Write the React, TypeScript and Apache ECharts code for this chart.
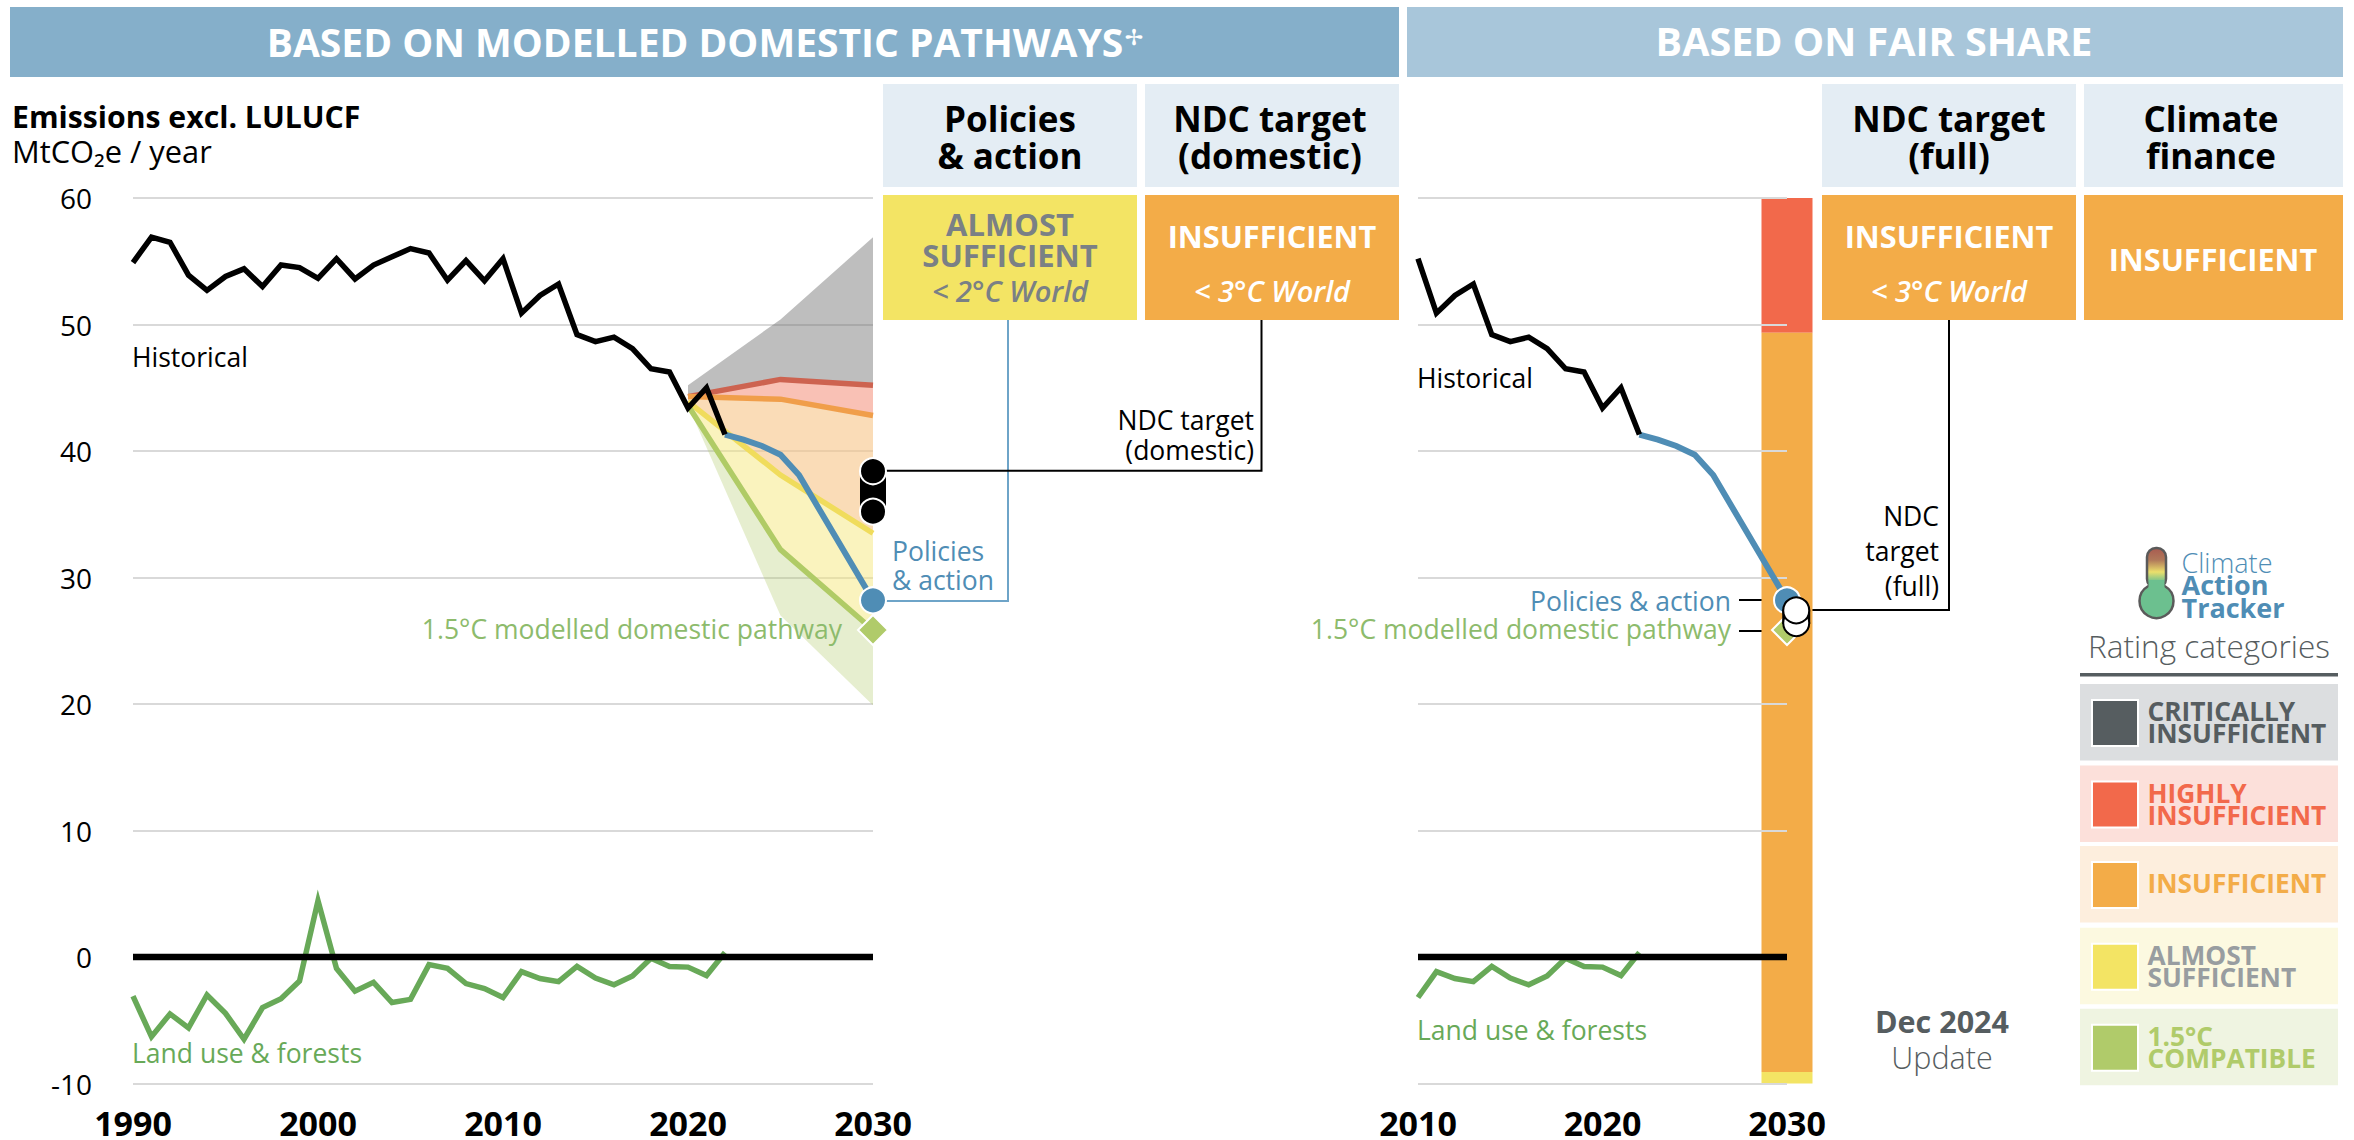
import React, { useEffect, useRef } from "react";
import * as echarts from "echarts";

const FONT = '"Open Sans","Noto Sans","DejaVu Sans",sans-serif';

const histYears = [1990,1991,1992,1993,1994,1995,1996,1997,1998,1999,2000,2001,2002,2003,2004,2005,2006,2007,2008,2009,2010,2011,2012,2013,2014,2015,2016,2017,2018,2019,2020,2021,2022];
const histValues = [54.9,56.9,56.5,53.9,52.7,53.8,54.4,53.0,54.7,54.5,53.65,55.2,53.6,54.7,55.35,56.0,55.65,53.5,55.05,53.45,55.2,50.9,52.3,53.2,49.2,48.65,49.0,48.1,46.5,46.25,43.4,45.0,41.3];
const landUseValues = [-3.1,-6.3,-4.5,-5.6,-3.0,-4.45,-6.5,-4.0,-3.3,-1.9,4.45,-0.9,-2.7,-2.0,-3.6,-3.35,-0.6,-0.9,-2.1,-2.5,-3.2,-1.16,-1.7,-1.95,-0.75,-1.67,-2.2,-1.5,-0.1,-0.76,-0.8,-1.47,0.35];
const policyYears = [2022,2023,2024,2025,2026,2030];
const policyValues = [41.3,40.9,40.4,39.7,38.1,28.2];
const pathwayYears = [2020,2025,2030];
const boundCritical = [45.2,50.4,56.9];
const boundHighly = [44.3,45.66,45.2];
const boundInsufficient = [44.3,44.1,42.8];
const boundAlmost = [43.9,38.1,33.5];
const boundCompatible = [43.6,32.2,25.85];
const boundLower = [43.6,27.0,19.9];
const ndcDomestic = [38.4,35.2];
const ndcFull = [27.4,26.4];
const fairShareStops = [60,49.35,-9.1,-10];
const zeroYearsLeft = [1990,2030];
const zeroYearsRight = [2010,2030];
const yTicks = { min: -10, max: 60, step: 10 };
const legendRows = [
  { lines: ["CRITICALLY", "INSUFFICIENT"], swatch: "#565d60", band: "#dcdee0", ink: "#565d60" },
  { lines: ["HIGHLY", "INSUFFICIENT"], swatch: "#f2694b", band: "#fce0da", ink: "#f2694b" },
  { lines: ["INSUFFICIENT"], swatch: "#f3ac48", band: "#fdeedd", ink: "#f3ac48" },
  { lines: ["ALMOST", "SUFFICIENT"], swatch: "#f3e464", band: "#fcf9e0", ink: "#989da0" },
  { lines: ["1.5°C", "COMPATIBLE"], swatch: "#b0cb6a", band: "#eff4e1", ink: "#b0cb6a" },
];

const BLUE = "#4f8db5";
const BLACK = "#000000";
const GREEN = "#68a958";
const LIGHTGREEN = "#8dbb6c";
const GREY = "#7a8085";
const LIGHT = "300";
const NOTE = 26.5;

const T = (text: string, x: number, base: number, size: number, fill: string, o: any = {}) => ({
  type: "text", z: 20, silent: true,
  style: {
    text, x, y: base - size * 0.388, fontSize: size, fontFamily: o.f || FONT,
    fontWeight: o.w || "normal", fontStyle: o.i ? "italic" : "normal",
    fill, align: o.a || "left", verticalAlign: "middle",
  },
});
const R = (x: number, y: number, w: number, h: number, fill: any, o: any = {}) => ({
  type: "rect", z: 5, silent: true, shape: { x, y, width: w, height: h, r: o.r || 0 },
  style: { fill, stroke: o.stroke, lineWidth: o.lw },
});
const P = (points: number[][], stroke: string, lw = 2) => ({
  type: "polyline", z: 1, silent: true, shape: { points }, style: { stroke, lineWidth: lw, fill: "none" },
});

function line(name: string, xs: number[], ys: number[], color: string, width: number, axis: number, z: number) {
  return {
    name, type: "line", xAxisIndex: axis, yAxisIndex: axis, z,
    data: xs.map((x, i) => [x, ys[i]]), symbol: "none", silent: true,
    lineStyle: { color, width, join: "miter", miterLimit: 6 },
  };
}
function band(name: string, upper: number[], lower: number[], fill: string) {
  return {
    name, type: "custom", xAxisIndex: 0, yAxisIndex: 0, z: 1, silent: true,
    data: pathwayYears.map((x, i) => [x, upper[i], lower[i]]),
    encode: { x: 0, y: [1, 2] },
    renderItem: (p: any, api: any) => {
      if (p.dataIndex !== 0) return null;
      const up = pathwayYears.map((x, i) => api.coord([x, upper[i]]));
      const lo = pathwayYears.map((x, i) => api.coord([x, lower[i]])).reverse();
      return { type: "polygon", shape: { points: [...up, ...lo] }, style: { fill } };
    },
  };
}
function dots(name: string, xs: number[], ys: number[], axis: number, z: number, symbol: string, size: number, color: string, border: string, bw = 2) {
  return {
    name, type: "scatter", xAxisIndex: axis, yAxisIndex: axis, z, clip: false, silent: true,
    symbol, symbolSize: size, data: xs.map((x, i) => [x, ys[i]]),
    itemStyle: { color, borderColor: border, borderWidth: bw, opacity: 1 },
  };
}
function range(name: string, x: number, vals: number[], axis: number, z: number, fill: string, stroke: string) {
  return {
    name, type: "custom", xAxisIndex: axis, yAxisIndex: axis, z, silent: true, clip: false,
    data: [[x, vals[0], vals[1]]], encode: { x: 0, y: [1, 2] },
    renderItem: (_: any, api: any) => {
      const a = api.coord([api.value(0), api.value(1)]);
      const b = api.coord([api.value(0), api.value(2)]);
      return { type: "rect", shape: { x: a[0] - 13, y: a[1], width: 26, height: b[1] - a[1] }, style: { fill, stroke, lineWidth: stroke === "none" ? 0 : 2 } };
    },
  };
}
const barColors = ["#f2694b", "#f3ac48", "#f3e464"];
const fairBar = {
  name: "Fair share", type: "custom", xAxisIndex: 1, yAxisIndex: 1, z: 1, silent: true, clip: false,
  data: barColors.map((_, i) => [2030, fairShareStops[i], fairShareStops[i + 1], i]),
  encode: { x: 0, y: [1, 2] },
  renderItem: (_: any, api: any) => {
    const a = api.coord([api.value(0), api.value(1)]);
    const b = api.coord([api.value(0), api.value(2)]);
    return { type: "rect", shape: { x: a[0] - 25.5, y: a[1], width: 51, height: b[1] - a[1] }, style: { fill: barColors[api.value(3)] } };
  },
};

function xAxis(gridIndex: number, min: number) {
  return {
    type: "value", gridIndex, min, max: 2030, interval: 10,
    axisLine: { show: false }, axisTick: { show: false }, splitLine: { show: false },
    axisLabel: { color: "#000", fontFamily: FONT, fontWeight: "bold", fontSize: 34, margin: 22, showMinLabel: true, showMaxLabel: true, formatter: (v: number) => String(v) },
  };
}
function yAxis(gridIndex: number, labels: boolean, z: number) {
  return {
    type: "value", gridIndex, z, min: yTicks.min, max: yTicks.max, interval: yTicks.step,
    axisLine: { show: false }, axisTick: { show: false },
    splitLine: { show: true, lineStyle: { color: "#d9d9d9", width: 2 } },
    axisLabel: { show: labels, color: "#000", fontFamily: FONT, fontSize: 28, margin: 41 },
  };
}

function buildGraphic() {
  const g: any[] = [
    R(10, 7, 1389, 70, "#85afca"),
    R(1407, 7, 936, 70, "#a8c6da"),
    T("BASED ON MODELLED DOMESTIC PATHWAYS", 695, 56.7, 39, "#fff", { a: "center", w: "bold" }),
    T("✢", 1134, 46, 22, "#fff", { a: "center", f: '"DejaVu Sans"' }),
    T("BASED ON FAIR SHARE", 1874, 56.7, 39.5, "#fff", { a: "center", w: "bold" }),
    T("Emissions excl. LULUCF", 12, 127.8, 30.2, "#000", { w: "bold" }),
    T("MtCO₂e / year", 12, 162.5, 30.8, "#000"),
    // column heads
    R(883, 84, 254, 103, "#e4edf4"), R(1145, 84, 254, 103, "#e4edf4"),
    R(1822, 84, 254, 103, "#e4edf4"), R(2084, 84, 259, 103, "#e4edf4"),
    T("Policies", 1010, 132, 35, "#000", { a: "center", w: "bold" }),
    T("& action", 1010, 169.5, 35, "#000", { a: "center", w: "bold" }),
    T("NDC target", 1270, 132, 35, "#000", { a: "center", w: "bold" }),
    T("(domestic)", 1270, 169.5, 35, "#000", { a: "center", w: "bold" }),
    T("NDC target", 1949, 132, 35, "#000", { a: "center", w: "bold" }),
    T("(full)", 1949, 169.5, 35, "#000", { a: "center", w: "bold" }),
    T("Climate", 2211, 132, 35, "#000", { a: "center", w: "bold" }),
    T("finance", 2211, 169.5, 35, "#000", { a: "center", w: "bold" }),
    // rating boxes
    R(883, 195, 254, 125, "#f3e464"), R(1145, 195, 254, 125, "#f3ac48"),
    R(1822, 195, 254, 125, "#f3ac48"), R(2084, 195, 259, 125, "#f3ac48"),
    T("ALMOST", 1010, 235.7, 31, GREY, { a: "center", w: "bold" }),
    T("SUFFICIENT", 1010, 267, 31, GREY, { a: "center", w: "bold" }),
    T("< 2°C World", 1010, 301.7, 29, GREY, { a: "center", i: true, w: "600" }),
    T("INSUFFICIENT", 1272, 247.7, 30.7, "#fff", { a: "center", w: "bold" }),
    T("< 3°C World", 1272, 301.7, 29, "#fff", { a: "center", i: true, w: "600" }),
    T("INSUFFICIENT", 1949, 247.7, 30.7, "#fff", { a: "center", w: "bold" }),
    T("< 3°C World", 1949, 301.7, 29, "#fff", { a: "center", i: true, w: "600" }),
    T("INSUFFICIENT", 2213, 270.7, 30.7, "#fff", { a: "center", w: "bold" }),
    // connectors
    P([[885, 601], [1008, 601], [1008, 320]], "#6ea4c8"),
    P([[885, 470.7], [1261.5, 470.7], [1261.5, 320]], "#000"),
    P([[1808, 610], [1949, 610], [1949, 320]], "#000"),
    P([[1739, 600], [1771, 600]], "#000"),
    P([[1739, 631], [1771, 631]], "#000"),
    // annotations
    T("Historical", 132, 366.8, NOTE, "#000"),
    T("Land use & forests", 132, 1063.5, NOTE, GREEN),
    T("Policies", 892, 561.7, NOTE, BLUE),
    T("& action", 892, 590, NOTE, BLUE),
    T("NDC target", 1254, 430.7, NOTE, "#000", { a: "right" }),
    T("(domestic)", 1254, 460, NOTE, "#000", { a: "right" }),
    T("1.5°C modelled domestic pathway", 842, 639.3, NOTE, LIGHTGREEN, { a: "right" }),
    T("Historical", 1417, 388, NOTE, "#000"),
    T("Land use & forests", 1417, 1040, NOTE, GREEN),
    T("Policies & action", 1731, 611, NOTE, BLUE, { a: "right" }),
    T("1.5°C modelled domestic pathway", 1731, 639, NOTE, LIGHTGREEN, { a: "right" }),
    T("NDC", 1939, 526.7, NOTE, "#000", { a: "right" }),
    T("target", 1939, 561, NOTE, "#000", { a: "right" }),
    T("(full)", 1939, 596, NOTE, "#000", { a: "right" }),
    T("Dec 2024", 1942, 1032.5, 30.5, "#565d60", { a: "center", w: "bold" }),
    T("Update", 1942, 1068.5, 30.5, "#565d60", { a: "center", w: LIGHT }),
    // logo
    R(2147, 548, 19, 40, {
      type: "linear", x: 0, y: 0, x2: 0, y2: 1,
      colorStops: [{ offset: 0, color: "#a85a50" }, { offset: 0.3, color: "#b0785a" }, { offset: 0.6, color: "#ebdf6c" }, { offset: 0.85, color: "#6cc08f" }, { offset: 1, color: "#6cc08f" }],
    }, { r: 9, stroke: "#5a5a5a", lw: 2.5 }),
    { type: "circle", z: 6, silent: true, shape: { cx: 2156.5, cy: 601, r: 17 }, style: { fill: "#6cc08f", stroke: "#5a5a5a", lineWidth: 2.5 } },
    { ...R(2148.5, 580, 16, 12, "#6cc08f"), z: 7 },
    T("Climate", 2181.5, 573, 27, BLUE, { w: LIGHT }),
    T("Action", 2181.5, 595, 27, BLUE, { w: "bold" }),
    T("Tracker", 2181.5, 618, 27, BLUE, { w: "bold" }),
    T("Rating categories", 2088, 658, 31.5, "#565d60", { w: LIGHT }),
    R(2080, 673, 258, 3.5, "#565d60"),
  ];
  const tops = [684, 765.5, 846, 927.7, 1008.7];
  legendRows.forEach((row, i) => {
    const top = tops[i];
    g.push(R(2080, top, 258, 76.5, row.band));
    g.push({ ...R(2092, top + 16, 46, 46, row.swatch, { stroke: "#fff", lw: 2 }), z: 6 });
    const base = row.lines.length === 1 ? top + 47.5 : top + 37.5;
    row.lines.forEach((l, j) => g.push(T(l, 2147.5, base + j * 22.2, 26.3, row.ink, { w: "bold" })));
  });
  return g;
}

const rightYears = histYears.filter((y) => y >= 2010);
const rightHist = histValues.filter((_, i) => histYears[i] >= 2010);
const rightLand = landUseValues.filter((_, i) => histYears[i] >= 2010);

export default function App() {
  const ref = useRef<HTMLDivElement>(null);
  useEffect(() => {
    document.body.style.margin = "0";
    const chart = echarts.init(ref.current!, null, { renderer: "svg" });
    chart.setOption({
      animation: false,
      backgroundColor: "#fff",
      textStyle: { fontFamily: FONT },
      grid: [
        { left: 133, top: 198, width: 740, height: 885.5 },
        { left: 1418, top: 198, width: 369, height: 885.5 },
      ],
      xAxis: [xAxis(0, 1990), xAxis(1, 2010)],
      yAxis: [yAxis(0, true, 0), yAxis(1, false, 2)],
      graphic: { elements: buildGraphic() },
      series: [
        band("Critically insufficient", boundCritical, boundHighly, "rgba(110,110,110,0.45)"),
        band("Highly insufficient", boundHighly, boundInsufficient, "rgba(246,160,142,0.65)"),
        band("Insufficient", boundInsufficient, boundAlmost, "rgba(246,196,135,0.6)"),
        band("Almost sufficient", boundAlmost, boundCompatible, "rgba(245,232,125,0.5)"),
        band("1.5C compatible", boundCompatible, boundLower, "rgba(176,203,106,0.32)"),
        line("Highly boundary", pathwayYears, boundHighly, "#cd6350", 5.5, 0, 3),
        line("Insufficient boundary", pathwayYears, boundInsufficient, "#f09e4a", 5.5, 0, 3),
        line("Almost boundary", pathwayYears, boundAlmost, "#f0dc5c", 5.5, 0, 3),
        line("Compatible boundary", pathwayYears, boundCompatible, "#b0cb66", 5.5, 0, 3),
        line("Zero", zeroYearsLeft, [0, 0], BLACK, 6.5, 0, 5),
        line("Land use & forests", histYears, landUseValues, GREEN, 5.5, 0, 4),
        line("Policies & action", policyYears, policyValues, BLUE, 6, 0, 6),
        line("Historical", histYears, histValues, BLACK, 5.5, 0, 7),
        range("NDC domestic range", 2030, ndcDomestic, 0, 8, BLACK, "none"),
        dots("NDC domestic", [2030, 2030], ndcDomestic, 0, 9, "circle", 26, BLACK, "#fff"),
        dots("Policies end", [2030], [policyValues[5]], 0, 9, "circle", 26, BLUE, "#fff"),
        dots("Pathway end", [2030], [boundCompatible[2]], 0, 9, "diamond", 30, "#b0cb6a", "#fff"),

        fairBar,
        line("Zero right", zeroYearsRight, [0, 0], BLACK, 6.5, 1, 5),
        line("Land use right", rightYears, rightLand, GREEN, 5.5, 1, 4),
        line("Policies right", policyYears, policyValues, BLUE, 6, 1, 6),
        line("Historical right", rightYears, rightHist, BLACK, 5.5, 1, 7),
        dots("Pathway end right", [2030], [boundCompatible[2]], 1, 8, "diamond", 30, "#b0cb6a", "#fff"),
        dots("Policies end right", [2030], [policyValues[5]], 1, 9, "circle", 26, BLUE, "#fff"),
        range("NDC full range", 2030.5, ndcFull, 1, 10, "#fff", "#000"),
        dots("NDC full", [2030.5], [ndcFull[1]], 1, 11, "circle", 26, "#fff", "#000"),
        dots("NDC full top", [2030.5], [ndcFull[0]], 1, 12, "circle", 26, "#fff", "#000"),
      ],
    });
    return () => chart.dispose();
  }, []);
  return <div ref={ref} style={{ width: 2354, height: 1140 }} />;
}
